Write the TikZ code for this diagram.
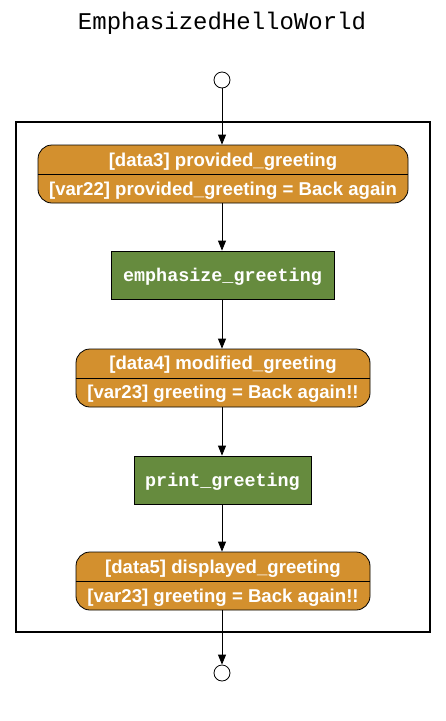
\documentclass[tikz,border=0pt]{standalone}
\usepackage{fontspec}
\setmainfont{Liberation Sans}
\setmonofont{Liberation Mono}
\usetikzlibrary{arrows.meta}
\definecolor{dataorange}{RGB}{211,144,46}
\definecolor{taskgreen}{RGB}{102,139,62}
\tikzset{
  databox/.style={draw=black, line width=0.8pt, fill=dataorange, rounded corners=14pt, minimum height=58pt, inner sep=0pt},
  datatext/.style={text=white, font=\fontsize{18.6}{20}\selectfont\bfseries, inner sep=0pt},
  taskbox/.style={draw=black, line width=0.8pt, fill=taskgreen, minimum height=48pt, inner sep=0pt, text=white, font=\fontsize{18.4}{20}\selectfont\ttfamily\bfseries},
  tasktext/.style={text=white, font=\fontsize{18.4}{20}\selectfont\ttfamily\bfseries, inner sep=0pt},
  termcircle/.style={circle, draw=black, line width=0.8pt, fill=white, minimum size=16pt, inner sep=0pt},
  flow/.style={-{Triangle[length=10pt,width=8pt]}, line width=0.8pt},
  plain/.style={line width=0.8pt}
}
\begin{document}
\begin{tikzpicture}[x=1pt,y=-1pt]
\useasboundingbox (0,0) rectangle (445,721);
\node[font=\fontsize{24}{26}\selectfont\ttfamily] (title) at (222,23) {EmphasizedHelloWorld};
\draw[line width=1.8pt] (16,122) rectangle (430,632);
\node[termcircle] (start) at (222,80) {};
\node[termcircle] (stop) at (222,673) {};

\node[databox, minimum width=370pt] (d3) at (223,174) {};
\node[datatext] (d3a) at (223,161.5) {[data3] provided\_greeting};
\node[datatext] (d3b) at (223,190.5) {[var22] provided\_greeting = Back again};
\draw[plain] (d3.west) -- (d3.east);

\node[taskbox, minimum width=223pt] (t1) at (222.5,275) {};
\node[tasktext] (t1t) at (222.5,277) {emphasize\_greeting};

\node[databox, minimum width=294pt] (d4) at (223,378) {};
\node[datatext] (d4a) at (223,364.5) {[data4] modified\_greeting};
\node[datatext] (d4b) at (223,393.5) {[var23] greeting = Back again!!};
\draw[plain] (d4.west) -- (d4.east);

\node[taskbox, minimum width=177pt] (t2) at (222.5,480) {};
\node[tasktext] (t2t) at (222.5,482) {print\_greeting};

\node[databox, minimum width=294pt] (d5) at (223,581) {};
\node[datatext] (d5a) at (223,568.5) {[data5] displayed\_greeting};
\node[datatext] (d5b) at (223,597.5) {[var23] greeting = Back again!!};
\draw[plain] (d5.west) -- (d5.east);

\draw[flow] (start) -- (start |- d3.north);
\draw[flow] (start |- d3.south) -- (start |- t1.north);
\draw[flow] (start |- t1.south) -- (start |- d4.north);
\draw[flow] (start |- d4.south) -- (start |- t2.north);
\draw[flow] (start |- t2.south) -- (start |- d5.north);
\draw[flow] (start |- d5.south) -- (stop);
\end{tikzpicture}
\end{document}
